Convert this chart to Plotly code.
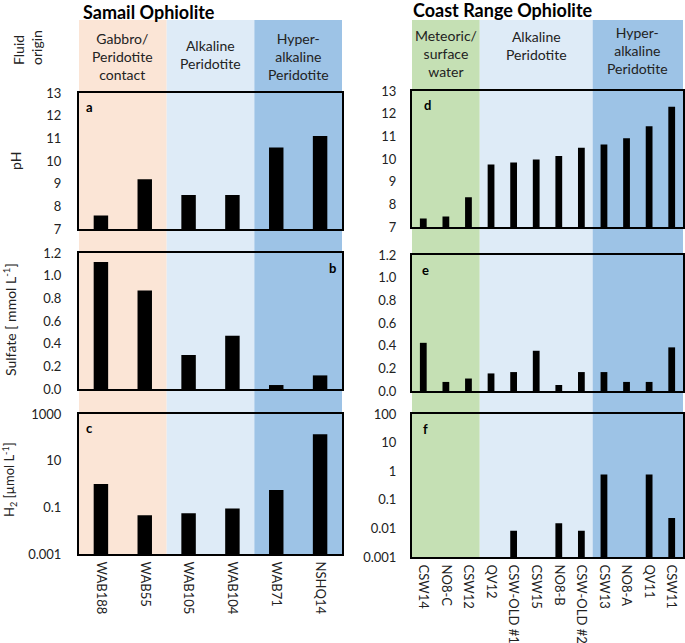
import plotly.graph_objects as go

# ---------------- data ----------------
samail_sites = ["WAB188", "WAB55", "WAB105", "WAB104", "WAB71", "NSHQ14"]
samail_ph = [7.6, 9.2, 8.5, 8.5, 10.6, 11.1]
samail_sulfate = [1.12, 0.87, 0.30, 0.47, 0.035, 0.12]
samail_h2 = [1.0, 0.046, 0.056, 0.09, 0.55, 135]

coast_sites = ["CSW14", "NO8-C", "CSW12", "QV12", "CSW-OLD #1", "CSW15",
               "NO8-B", "CSW-OLD #2", "CSW13", "NO8-A", "QV11", "CSW11"]
coast_ph = [7.38, 7.46, 8.31, 9.76, 9.85, 9.98, 10.13, 10.5, 10.64, 10.92, 11.44, 12.31]
coast_sulfate = [0.425, 0.08, 0.11, 0.155, 0.167, 0.355, 0.053, 0.167, 0.167, 0.08, 0.08, 0.385]
coast_h2 = [None, None, None, None, 0.0083, None, 0.015, 0.0083, 0.76, None, 0.76, 0.023]

samail_groups = ["Gabbro/<br>Peridotite<br>contact", "Alkaline<br>Peridotite", "Hyper-<br>alkaline<br>Peridotite"]
coast_groups = ["Meteoric/<br>surface<br>water", "Alkaline<br>Peridotite", "Hyper-<br>alkaline<br>Peridotite"]

# ---------------- layout helpers ----------------
W, H = 685, 643
def fx(p): return p / W
def fy(p): return 1 - p / H

FONT = "Lato"
TXT = "#222222"

fig = go.Figure()

panels = [
    ("x", "y", samail_sites, samail_ph, (79, 342), (93, 229), 0.33),
    ("x2", "y2", samail_sites, samail_sulfate, (79, 342), (253, 389), 0.33),
    ("x3", "y3", samail_sites, samail_h2, (79, 342), (414, 554), 0.33),
    ("x4", "y4", coast_sites, coast_ph, (412, 683), (91, 227), 0.3),
    ("x5", "y5", coast_sites, coast_sulfate, (412, 683), (255, 391), 0.3),
    ("x6", "y6", coast_sites, coast_h2, (412, 683), (414, 557), 0.3),
]

for xa, ya, xs, ys, _, _, w in panels:
    fig.add_trace(go.Bar(x=xs, y=ys, xaxis=xa, yaxis=ya, width=w,
                         marker=dict(color="black", line=dict(width=0)),
                         showlegend=False, hoverinfo="x+y"))

layout = dict(width=W, height=H, autosize=False, margin=dict(l=0, r=0, t=0, b=0, pad=0),
              paper_bgcolor="white", plot_bgcolor="rgba(0,0,0,0)",
              font=dict(family=FONT, color=TXT, size=13))

yconf = {
    "y": dict(range=[7, 13], dtick=1, tick0=7),
    "y2": dict(range=[0, 1.2], dtick=0.2, tick0=0, tickformat=".1f"),
    "y3": dict(type="log", range=[-3, 3], tickvals=[0.001, 0.1, 10, 1000],
               ticktext=["0.001", "0.1", "10", "1000"]),
    "y4": dict(range=[7, 13], dtick=1, tick0=7),
    "y5": dict(range=[0, 1.2], dtick=0.2, tick0=0, tickformat=".1f"),
    "y6": dict(type="log", range=[-3, 2], tickvals=[0.001, 0.01, 0.1, 1, 10, 100],
               ticktext=["0.001", "0.01", "0.1", "1", "10", "100"]),
}

for xa, ya, xs, ys, (xl, xr), (yt, yb), w in panels:
    xkey = "xaxis" + xa[1:]
    ykey = "yaxis" + ya[1:]
    show_x = xa in ("x3", "x6")
    ncat = len(xs)
    layout[xkey] = dict(domain=[fx(xl), fx(xr)], anchor=ya, type="category",
                        categoryorder="array", categoryarray=xs,
                        range=[-0.5, ncat - 0.5], automargin=False,
                        showline=True, mirror=True, linecolor="black", linewidth=2,
                        showgrid=False, zeroline=False, ticks="",
                        showticklabels=show_x, tickangle=90,
                        tickfont=dict(size=13, family=FONT, color=TXT),
                        ticklabelstandoff=3)
    yd = dict(domain=[fy(yb), fy(yt)], anchor=xa, automargin=False,
              showline=True, mirror=True, linecolor="black", linewidth=2,
              showgrid=False, zeroline=False, ticks="",
              tickfont=dict(size=13, family=FONT, color=TXT),
              ticklabelstandoff=13 if xa in ("x", "x2", "x3") else 11)
    yd.update(yconf[ya])
    layout[ykey] = yd

fig.update_layout(**layout)

# ---------------- background bands ----------------
band_top = fy(20)
left_colors = ["#FBE5D6", "#DEEBF7", "#9DC3E6"]
left_bounds = [(-0.55, 1.5), (1.5, 3.5), (3.5, 5.55)]
right_colors = ["#C5E0B4", "#DEEBF7", "#9DC3E6"]
right_bounds = [(-0.55, 2.5), (2.5, 7.5), (7.5, 11.6)]

shapes = []
for c, (a, b) in zip(left_colors, left_bounds):
    shapes.append(dict(type="rect", xref="x3", yref="paper", x0=a, x1=b,
                       y0=fy(554), y1=band_top, fillcolor=c, line=dict(width=0),
                       layer="below"))
for c, (a, b) in zip(right_colors, right_bounds):
    shapes.append(dict(type="rect", xref="x6", yref="paper", x0=a, x1=b,
                       y0=fy(557), y1=band_top, fillcolor=c, line=dict(width=0),
                       layer="below"))
fig.update_layout(shapes=shapes)

# ---------------- annotations ----------------
ann = []
def A(text, x, y, xref="paper", yref="paper", size=13, angle=0, color=TXT,
      yanchor="middle", align="center"):
    ann.append(dict(text=text, x=x, y=y, xref=xref, yref=yref, xanchor="center",
                    yanchor=yanchor, showarrow=False, textangle=angle, align=align,
                    font=dict(size=size, family=FONT, color=color)))

A("<b>Samail Ophiolite</b>", fx(149), fy(12), size=18, color="black")
A("<b>Coast Range Ophiolite</b>", fx(503), fy(10), size=18, color="black")
A("Fluid<br>origin", fx(27), fy(48), angle=-90, size=14, align="left")
left_centers = [57, 54, 57]
right_centers = [53, 46, 50]
for lbl, (a, b), cy in zip(samail_groups, left_bounds, left_centers):
    A(lbl, (max(a, -0.5) + min(b, 5.5)) / 2, fy(cy), xref="x3", size=14)
for lbl, (a, b), cy in zip(coast_groups, right_bounds, right_centers):
    A(lbl, (max(a, -0.5) + min(b, 11.5)) / 2, fy(cy), xref="x6", size=14)
A("pH", fx(15), fy(161), angle=-90, size=14)
A("Sulfate [ mmol L<sup>-1</sup>]", fx(9), fy(320), angle=-90, size=14)
A("H<sub>2</sub> [µmol L<sup>-1</sup>]", fx(9), fy(480), angle=-90, size=13)
for t, px_, py_ in [("a", 89, 107), ("b", 332, 268), ("c", 89, 428),
                    ("d", 427, 105), ("e", 425, 270), ("f", 426, 429)]:
    A("<b>%s</b>" % t, fx(px_), fy(py_), color="black")

fig.update_layout(annotations=ann)

fig.write_html("out.html", config={"displayModeBar": False})

# remove default page margin so the figure sits at the window origin
with open("out.html", "r", encoding="utf-8") as f:
    html = f.read()
html = html.replace("<head>", "<head><style>html,body{margin:0;padding:0;overflow:hidden;}</style>", 1)
with open("out.html", "w", encoding="utf-8") as f:
    f.write(html)
